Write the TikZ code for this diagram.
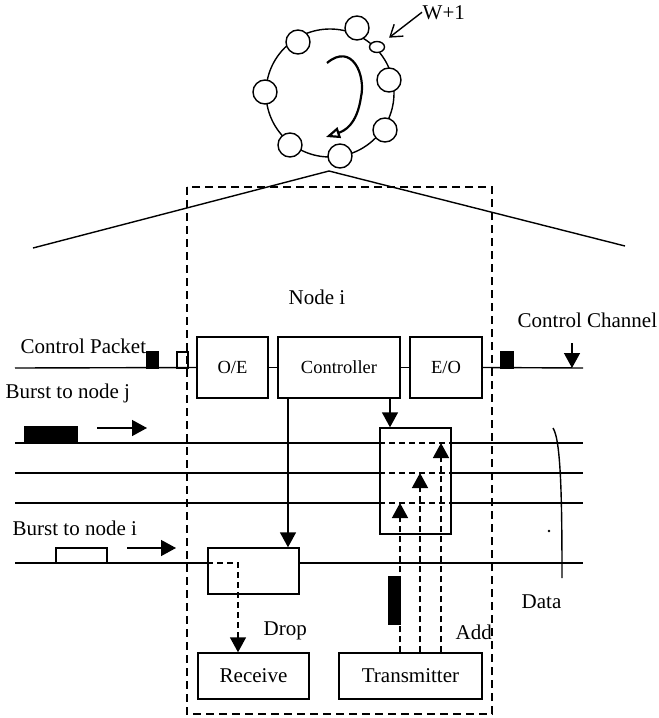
\documentclass[tikz,border=0pt]{standalone}
\usepackage{fontspec}
\setmainfont{Liberation Serif}
\usetikzlibrary{arrows.meta,shapes.geometric}

\begin{document}
\begin{tikzpicture}[x=1pt,y=-1pt,line width=1.4pt,
    label/.style={inner sep=0pt,anchor=base west,font=\fontsize{21}{25}\selectfont},
    unit/.style={draw,fill=white,inner sep=0pt,font=\fontsize{21}{25}\selectfont},
    small/.style={font=\fontsize{18.5}{22}\selectfont},
    arr/.style={-{Triangle[length=15pt,width=16pt]}},
    dline/.style={dash pattern=on 6pt off 4pt}]
    \useasboundingbox (0,0) rectangle (659,718);

    % ring of nodes
    \draw (330,93) circle (64pt);
    \filldraw[fill=white] (357,28) circle (12pt);
    \filldraw[fill=white] (298,42) circle (12pt);
    \filldraw[fill=white] (265,92) circle (12pt);
    \filldraw[fill=white] (290,145) circle (12pt);
    \filldraw[fill=white] (340,156) circle (12pt);
    \filldraw[fill=white] (385,130) circle (12pt);
    \filldraw[fill=white] (389,80) circle (12pt);
    \node[draw,ellipse,fill=white,inner sep=0pt,minimum width=15pt,minimum height=11pt] (wsmall) at (377,47) {};
    \node[label] (w1) at (422,19) {W+1};
    \draw[-{Straight Barb[length=11pt,width=15pt]},shorten >=8pt] (w1.west) -- (wsmall);
    \draw[line width=2.2pt,-{Triangle[open,length=14pt,width=11pt,fill=white]}]
        (327,63) .. controls (352,42) and (366,75) .. (361,97) .. controls (357,125) and (344,131) .. (326,137);

    % zoom lines
    \coordinate (apex) at (329,171);
    \draw (apex) -- (33,248);
    \draw (apex) -- (625,246);

    % node i
    \draw[dash pattern=on 8pt off 5pt] (187,187) rectangle (492,714);
    \node[label] (nodei) at (288,304) {Node i};

    \node[unit,small,minimum width=71pt,minimum height=61pt] (oe) at (232.5,367.5) {O/E};
    \node[unit,small,minimum width=122pt,minimum height=61pt] (ctrl) at (339,367.5) {Controller};
    \node[unit,small,minimum width=72pt,minimum height=61pt] (eo) at (446,367.5) {E/O};
    \node[unit,minimum width=71pt,minimum height=106pt] (add) at (415.5,481) {};
    \node[unit,minimum width=91pt,minimum height=46pt] (drop) at (253.5,571) {};
    \node[unit,minimum width=111pt,minimum height=46pt] (recv) at (253.5,676) {Receive};
    \node[unit,minimum width=143pt,minimum height=46pt] (trans) at (410.5,676) {Transmitter};

    % control channel
    \coordinate (cl) at (15,368);
    \coordinate (cr) at (583,368);
    \draw (cl) -- (oe.west);
    \draw (oe.east) -- (ctrl.west);
    \draw (ctrl.east) -- (eo.west);
    \draw (eo.east) -- (cr);
    \filldraw[black] (147,352) rectangle (158,368);
    \draw (177,352) rectangle (188,368);
    \filldraw[black] (501,352) rectangle (513,368);
    \coordinate (cc) at (572,343);
    \draw[arr] (cc) -- (cc |- cr);
    \node[label] (cpkt) at (20,353) {Control Packet};
    \node[label] (cchan) at (517,327) {Control Channel};

    % data channels
    \coordinate (l1) at (15,443);
    \coordinate (l2) at (15,473);
    \coordinate (l3) at (15,503);
    \coordinate (l4) at (15,563);
    \draw (l1) -- (l1 -| add.west);  \draw (l1 -| add.east) -- (583,443);
    \draw (l2) -- (l2 -| add.west);  \draw (l2 -| add.east) -- (583,473);
    \draw (l3) -- (l3 -| add.west);  \draw (l3 -| add.east) -- (583,503);
    \draw (l4) -- (l4 -| drop.west); \draw (l4 -| drop.east) -- (583,563);
    \draw[dline] (l1 -| add.west) -- (l1 -| add.east);
    \draw[dline] (l2 -| add.west) -- (l2 -| add.east);
    \draw[dline] (l3 -| add.west) -- (l3 -| add.east);

    \node[label] (bj) at (5,398) {Burst to node j};
    \filldraw[black] (25,427) rectangle (77,443);
    \draw[arr] (97,428) -- (147,428);
    \node[label] (bi) at (12,535) {Burst to node i};
    \draw (56,548) rectangle (107,563);
    \draw[arr] (127,548) -- (176,548);

    % controller outputs
    \draw[arr] (ctrl.south -| 288,0) -- (drop.north -| 288,0);
    \draw[arr] (ctrl.south -| 390,0) -- (add.north -| 390,0);

    % drop
    \coordinate (dturn) at (238,563);
    \draw[dline,arr] (l4 -| drop.west) -- (dturn) -- (dturn |- recv.north);
    \node[label] (droplbl) at (263,635) {Drop};

    % add
    \draw[dline,arr] (trans.north -| 400,0) -- (400,503);
    \draw[dline,arr] (trans.north -| 420,0) -- (420,473);
    \draw[dline,arr] (trans.north -| 441,0) -- (441,443);
    \filldraw[black] (389,577) rectangle (400,624);
    \node[label] (addlbl) at (455,639) {Add};

    % data bracket
    \draw (553,428) .. controls (561,440) and (562,500) .. (562,578);
    \fill (549,531) circle (1.4pt);
    \node[label] (data) at (521,608) {Data};
\end{tikzpicture}
\end{document}
